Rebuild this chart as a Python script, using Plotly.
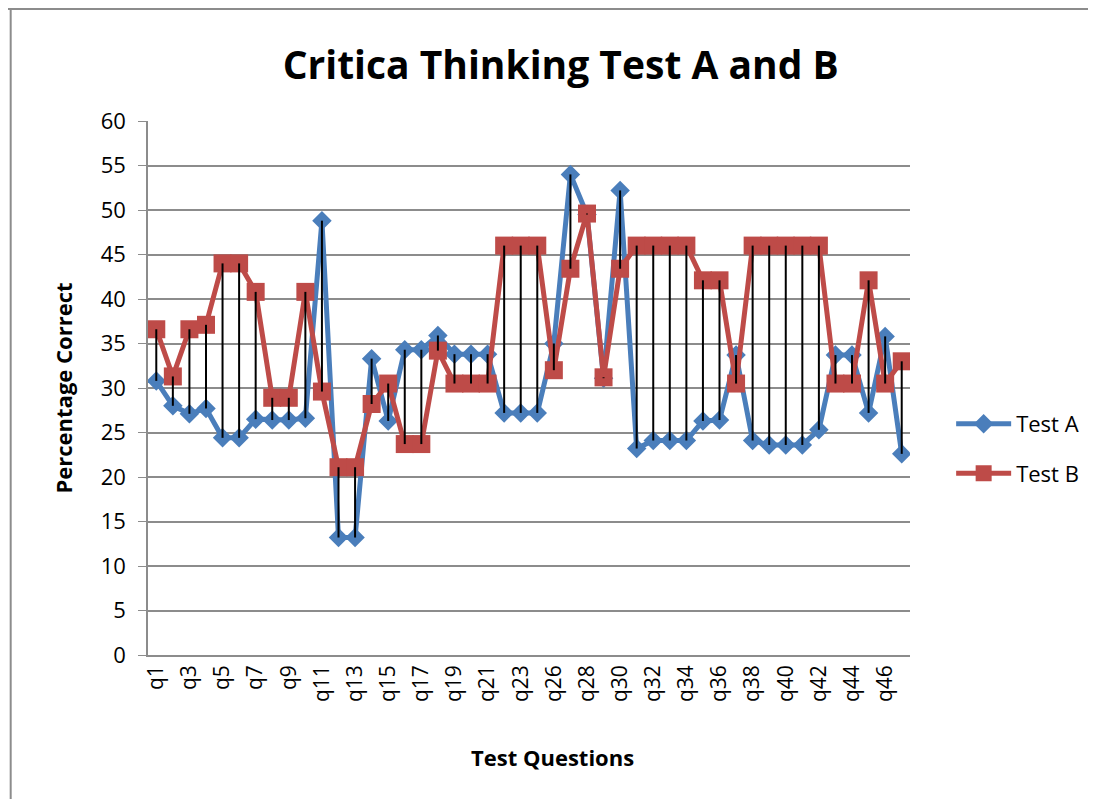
import plotly.graph_objects as go

categories = [f"q{i}" for i in range(1, 25)] + [f"q{i}" for i in range(26, 48)]

test_a = [30.8, 28.0, 27.1, 27.7, 24.4, 24.4, 26.5, 26.4, 26.4, 26.6,
          48.8, 13.2, 13.2, 33.3, 26.3, 34.3, 34.3, 35.9, 33.8, 33.8, 33.8, 27.2, 27.2, 27.2,
          35.0, 54.0, 49.5, 31.1, 52.2, 23.2, 24.1, 24.1, 24.1, 26.3, 26.4, 33.7,
          24.1, 23.6, 23.6, 23.6, 25.3, 33.7, 33.7, 27.2, 35.8, 22.6]

test_b = [36.6, 31.3, 36.6, 37.1, 44.0, 44.0, 40.8, 28.9, 28.9, 40.8,
          29.6, 21.1, 21.1, 28.2, 30.5, 23.7, 23.7, 34.2, 30.5, 30.5, 30.5, 46.0, 46.0, 46.0,
          32.0, 43.4, 49.6, 31.2, 43.4, 46.0, 46.0, 46.0, 46.0, 42.1, 42.1, 30.5,
          46.0, 46.0, 46.0, 46.0, 46.0, 30.5, 30.5, 42.1, 30.5, 33.0]

tick_labels = categories[::2]

FONT = "Open Sans"
BLUE = "#4A7EBB"
RED = "#BE4B48"
GRID = "#8C8C8C"

fig = go.Figure()
fig.add_trace(go.Scatter(
    x=categories, y=test_a, name="Test A", mode="lines+markers", legendgroup="a",
    line=dict(color=BLUE, width=5),
    marker=dict(symbol="diamond", size=15, color=BLUE),
))
fig.add_trace(go.Scatter(
    x=categories, y=test_b, name="Test B", mode="lines+markers", legendgroup="b",
    line=dict(color=RED, width=5),
    marker=dict(symbol="square", size=18, color=RED),
))

# high-low lines between the two series
hx, hy = [], []
for c, a, b in zip(categories, test_a, test_b):
    hx += [c, c, None]
    hy += [min(a, b), max(a, b), None]
fig.add_trace(go.Scatter(x=hx, y=hy, mode="lines", showlegend=False,
                         line=dict(color="black", width=2), hoverinfo="skip"))

fig.update_layout(
    width=1088, height=791,
    margin=dict(l=140, r=182, t=113, b=144),
    paper_bgcolor="white", plot_bgcolor="white",
    font=dict(family=FONT, color="black"),
    title=dict(text="<b>Critica Thinking Test A and B</b>", x=0.508, xanchor="center",
               y=0.928, yanchor="middle", font=dict(family=FONT, size=39, color="black")),
    legend=dict(x=1.054, y=0.386, xanchor="left", yanchor="middle",
                font=dict(family=FONT, size=22), tracegroupgap=18,
                itemwidth=55, bgcolor="rgba(0,0,0,0)"),
    showlegend=True,
    shapes=[
        dict(type="line", xref="paper", yref="paper", x0=-0.19, x1=1.35,
             y0=1.2097, y1=1.2097, line=dict(color=GRID, width=2)),
        dict(type="line", xref="paper", yref="paper", x0=-0.1802, x1=-0.1802,
             y0=-0.4, y1=1.2097, line=dict(color=GRID, width=2)),
    ],
    annotations=[
        dict(text="<b>Test Questions</b>", xref="paper", yref="paper",
             x=0.531, y=-0.191, xanchor="center", yanchor="middle", showarrow=False,
             font=dict(family=FONT, size=22, color="black")),
    ],
)

fig.update_xaxes(
    type="category", categoryorder="array", categoryarray=categories,
    range=[-0.5, len(categories) - 0.5],
    tickmode="array", tickvals=tick_labels, ticktext=tick_labels,
    tickangle=-90, tickfont=dict(family=FONT, size=21),
    showgrid=False, showline=True, linecolor=GRID, linewidth=1.5,
    ticks="",
)
fig.update_yaxes(
    range=[0, 60], dtick=5, tickfont=dict(family=FONT, size=22),
    showgrid=True, gridcolor=GRID, gridwidth=1.5,
    showline=True, linecolor=GRID, linewidth=1.5,
    ticks="outside", ticklen=8, tickcolor=GRID, zeroline=False,
    ticklabelstandoff=8,
    title=dict(text="<b>Percentage Correct</b>", font=dict(family=FONT, size=22), standoff=22),
)

fig.write_html("out.html")
